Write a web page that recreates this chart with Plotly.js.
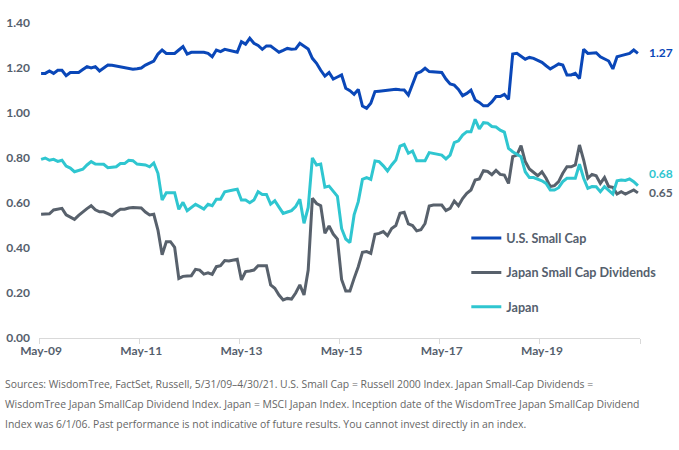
<!DOCTYPE html>
<html>
<head>
<meta charset="utf-8">
<script src="https://cdn.plot.ly/plotly-3.0.1.min.js"></script>
<style>html,body{margin:0;padding:0;background:#fff;}#chart{width:679px;height:450px;}</style>
</head>
<body>
<div id="chart"></div>
<script>
// Monthly values, 5/31/09 - 4/30/21 (144 months)
const usSmallCap = [
1.176,1.176,1.187,1.176,1.19,1.19,1.166,1.18,1.18,1.18,1.193,1.206,1.20,1.206,1.187,1.20,1.213,1.212,1.208,1.204,
1.20,1.197,1.195,1.197,1.20,1.213,1.222,1.231,1.262,1.28,1.265,1.265,1.265,1.28,1.295,1.262,1.27,1.27,1.27,1.27,
1.265,1.25,1.28,1.273,1.283,1.279,1.275,1.27,1.317,1.306,1.332,1.31,1.30,1.283,1.298,1.298,1.284,1.27,1.278,1.287,
1.283,1.285,1.31,1.297,1.284,1.243,1.221,1.19,1.164,1.18,1.151,1.16,1.169,1.11,1.099,1.083,1.105,1.031,1.021,1.043,
1.095,1.097,1.099,1.102,1.105,1.105,1.103,1.102,1.08,1.124,1.176,1.184,1.199,1.184,1.183,1.181,1.18,1.151,1.129,1.124,
1.105,1.077,1.087,1.102,1.058,1.047,1.032,1.032,1.049,1.073,1.073,1.083,1.061,1.262,1.265,1.252,1.239,1.247,1.243,1.234,
1.225,1.21,1.196,1.207,1.218,1.213,1.169,1.169,1.176,1.153,1.283,1.265,1.266,1.268,1.25,1.24,1.231,1.196,1.25,1.255,
1.26,1.265,1.28,1.265
];
const japanSmallCapDiv = [
0.55,0.55,0.552,0.569,0.572,0.576,0.547,0.537,0.527,0.545,0.561,0.575,0.588,0.57,0.561,0.561,0.553,0.544,0.56,0.572,
0.572,0.578,0.58,0.58,0.578,0.56,0.547,0.55,0.48,0.37,0.428,0.428,0.403,0.265,0.274,0.276,0.277,0.305,0.302,0.284,
0.29,0.283,0.317,0.321,0.344,0.342,0.346,0.35,0.258,0.295,0.298,0.302,0.321,0.321,0.321,0.236,0.221,0.191,0.169,0.176,
0.173,0.2,0.236,0.191,0.302,0.621,0.598,0.588,0.465,0.498,0.462,0.44,0.26,0.209,0.209,0.265,0.317,0.381,0.384,0.376,
0.461,0.465,0.473,0.455,0.487,0.5,0.554,0.559,0.507,0.5,0.476,0.481,0.509,0.587,0.591,0.591,0.591,0.566,0.576,0.609,
0.588,0.62,0.643,0.658,0.702,0.707,0.744,0.74,0.726,0.745,0.727,0.724,0.687,0.806,0.813,0.855,0.784,0.751,0.736,0.721,
0.739,0.71,0.673,0.677,0.695,0.732,0.761,0.761,0.769,0.858,0.791,0.71,0.727,0.721,0.687,0.713,0.673,0.67,0.64,0.65,
0.64,0.65,0.658,0.645
];
const japan = [
0.794,0.80,0.79,0.794,0.785,0.79,0.764,0.755,0.739,0.745,0.75,0.769,0.784,0.773,0.772,0.772,0.757,0.76,0.761,0.775,
0.775,0.79,0.788,0.773,0.771,0.769,0.761,0.778,0.732,0.613,0.646,0.646,0.646,0.572,0.603,0.566,0.58,0.594,0.584,0.573,
0.594,0.588,0.617,0.617,0.65,0.655,0.658,0.661,0.613,0.613,0.601,0.613,0.65,0.638,0.638,0.595,0.61,0.582,0.554,0.56,
0.566,0.584,0.617,0.51,0.58,0.80,0.769,0.773,0.67,0.675,0.652,0.63,0.487,0.44,0.424,0.547,0.606,0.705,0.713,0.705,
0.787,0.784,0.765,0.742,0.769,0.791,0.853,0.86,0.821,0.831,0.788,0.788,0.788,0.824,0.821,0.817,0.813,0.796,0.813,0.868,
0.876,0.902,0.917,0.917,0.972,0.929,0.957,0.955,0.94,0.938,0.924,0.915,0.843,0.828,0.816,0.806,0.739,0.713,0.713,0.707,
0.699,0.687,0.658,0.658,0.668,0.695,0.71,0.71,0.71,0.772,0.71,0.665,0.673,0.672,0.65,0.673,0.658,0.64,0.699,0.702,
0.70,0.707,0.695,0.677
];
const seriesNames = ["U.S. Small Cap", "Japan Small Cap Dividends", "Japan"];
const tickLabels = ["May-09","May-11","May-13","May-15","May-17","May-19"];
const endLabels = ["1.27","0.65","0.68"];
const footnote = [
"Sources: WisdomTree, FactSet, Russell, 5/31/09\u20134/30/21. U.S. Small Cap = Russell 2000 Index. Japan Small-Cap Dividends =",
"WisdomTree Japan SmallCap Dividend Index. Japan = MSCI Japan Index. Inception date of the WisdomTree Japan SmallCap Dividend",
"Index was 6/1/06. Past performance is not indicative of future results. You cannot invest directly in an index."
];

const colors = ["#0a47b8", "#58616c", "#2fc6d0"];
const idx = usSmallCap.map((_, i) => i);
const series = [usSmallCap, japanSmallCapDiv, japan];

const traces = series.map((s, k) => ({
  x: idx, y: s, type: "scatter", mode: "lines", name: seriesNames[k],
  line: {color: colors[k], width: 3}, legendgroup: "g" + k, hoverinfo: "skip"
}));

const labelFont = {family: "Lato, sans-serif", size: 12, color: "#55606d", weight: 700};
const legendFont = {family: "Lato, sans-serif", size: 12.6, color: "#55606d", weight: 700};
const yShifts = [1, 0, 12];
const annotations = series.map((s, k) => ({
  x: s.length - 1, y: s[s.length - 1], xref: "x", yref: "y",
  text: endLabels[k], showarrow: false, xanchor: "left", yanchor: "middle",
  xshift: 9, yshift: yShifts[k],
  font: {family: "Lato, sans-serif", size: 12, color: colors[k], weight: 700}
}));
footnote.forEach((t, j) => annotations.push({
  x: -0.06, y: -0.146 - j * 0.0635, xref: "paper", yref: "paper",
  text: t, showarrow: false, xanchor: "left", yanchor: "middle",
  font: {family: "Open Sans, sans-serif", size: 10.4, color: "#666666"}
}));

const layout = {
  width: 679, height: 450,
  margin: {l: 39, r: 39, t: 23, b: 112},
  paper_bgcolor: "#fff", plot_bgcolor: "#fff",
  showlegend: true,
  legend: {x: 0.711, y: 0.364, xanchor: "left", yanchor: "top", traceorder: "grouped",
           tracegroupgap: 15, font: legendFont, bgcolor: "rgba(0,0,0,0)"},
  xaxis: {range: [-0.5, 143.5], tickmode: "array",
          tickvals: tickLabels.map((_, i) => i * 24), ticktext: tickLabels,
          ticks: "", showgrid: false, zeroline: false, showline: true,
          linecolor: "#d9d9d9", linewidth: 1, tickfont: labelFont, ticklabelstandoff: 2,
          minor: {tickmode: "linear", tick0: -0.5, dtick: 24, ticks: "outside", ticklen: 5,
                  tickcolor: "#d9d9d9", tickwidth: 1, showgrid: false}},
  yaxis: {range: [0, 1.4], tickmode: "linear", tick0: 0, dtick: 0.2, tickformat: ".2f",
          ticks: "", showgrid: false, zeroline: false, showline: false,
          tickfont: labelFont, ticklabelstandoff: 8},
  annotations: annotations
};

Plotly.newPlot("chart", traces, layout, {displayModeBar: false, staticPlot: true});
</script>
</body>
</html>
